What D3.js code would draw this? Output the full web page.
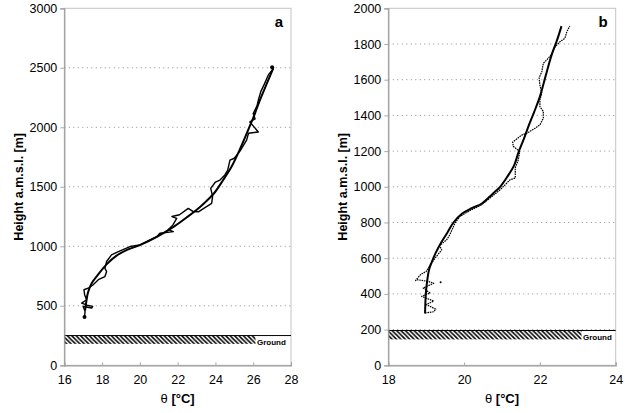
<!DOCTYPE html>
<html>
<head>
<meta charset="utf-8">
<script src="https://cdn.jsdelivr.net/npm/d3@7"></script>
<style>
  html, body { margin: 0; padding: 0; background: #fff; }
  svg { display: block; font-family: "Liberation Sans", Arial, sans-serif; }
</style>
</head>
<body>
<svg id="chart" width="625" height="413"></svg>
<script>
// ---------------- DATA ----------------
// Panel a
const aXTicks = [16, 18, 20, 22, 24, 26, 28];
const aYTicks = [0, 500, 1000, 1500, 2000, 2500, 3000];
const aGround = [180, 250];
const aFit = [[17.1,460],[17.15,520],[17.25,610],[17.45,690],[17.8,765],[18.25,850],[18.75,920],[19.35,972],[20.0,1010],[20.9,1080],[21.8,1165],[22.5,1245],[23.2,1333],[23.65,1400],[23.95,1450],[24.4,1555],[24.85,1668],[25.35,1835],[25.8,2003],[26.1,2120],[26.35,2227],[26.7,2360],[27.06,2495]];
const aObs = [[17.07,405],[17.1,452],[17.0,494],[17.45,481],[17.5,495],[17.2,505],[16.92,523],[17.18,551],[17.08,590],[17.04,635],[17.3,650],[17.53,677],[17.8,719],[18.15,746],[18.24,788],[18.15,815],[18.24,872],[18.5,928],[18.86,956],[19.48,998],[20.0,1012],[20.53,1054],[20.89,1081],[21.06,1110],[21.77,1123],[21.5,1140],[21.75,1180],[21.95,1235],[21.7,1250],[22.1,1265],[22.56,1319],[22.83,1291],[23.1,1290],[23.3,1310],[23.8,1361],[23.85,1420],[23.75,1487],[24.0,1540],[24.24,1557],[24.5,1600],[24.65,1640],[24.77,1724],[25.0,1740],[25.3,1800],[25.65,1892],[25.75,1950],[26.27,1961],[25.82,2045],[26.1,2070],[26.0,2116],[26.2,2180],[26.27,2227],[26.4,2300],[26.6,2367],[26.8,2440],[27.06,2493],[27.0,2505]];

// Panel b
const bXTicks = [18, 20, 22, 24];
const bYTicks = [0, 200, 400, 600, 800, 1000, 1200, 1400, 1600, 1800, 2000];
const bGround = [145, 195];
const bFit = [[18.97,290],[18.99,400],[19.03,480],[19.08,540],[19.15,580],[19.25,630],[19.4,690],[19.55,740],[19.72,800],[19.95,850],[20.2,880],[20.46,905],[20.75,960],[20.95,1000],[21.15,1060],[21.32,1120],[21.43,1190],[21.58,1270],[21.7,1340],[21.85,1420],[22.0,1505],[22.15,1620],[22.31,1739],[22.45,1820],[22.57,1900]];
const bObs = [[18.97,293],[19.2,300],[19.25,315],[19.0,340],[19.2,360],[18.88,386],[19.1,405],[18.92,433],[19.2,460],[19.05,470],[18.75,480],[18.72,475],[18.85,508],[19.0,526],[19.14,573],[19.27,610],[19.41,647],[19.35,670],[19.54,703],[19.62,730],[19.68,759],[19.76,797],[19.89,834],[20.16,867],[20.46,899],[20.68,937],[20.95,983],[21.21,1039],[21.35,1049],[21.35,1106],[21.43,1151],[21.47,1198],[21.3,1226],[21.28,1250],[21.53,1291],[21.66,1300],[21.87,1328],[22.0,1347],[22.09,1384],[22.09,1422],[22.0,1449],[22.0,1487],[22.05,1524],[22.0,1571],[21.98,1610],[22.05,1645],[22.09,1692],[22.22,1720],[22.3,1740],[22.4,1785],[22.53,1813],[22.66,1832],[22.71,1869],[22.79,1901]];
const bObsDots = [[19.38,465]];

const panelLabels = ["a", "b"];
const yTitle = "Height a.m.s.l. [m]";
const groundLabel = "Ground";

// ---------------- DRAW ----------------
const svg = d3.select("#chart");
const defs = svg.append("defs");
const pat = defs.append("pattern").attr("id", "hatch")
  .attr("patternUnits", "userSpaceOnUse").attr("width", 4.4).attr("height", 4.4);
pat.append("path").attr("d", "M-1,-1 L5.4,5.4 M-1,3.4 L1,5.4 M3.4,-1 L5.4,1")
  .attr("stroke", "#000").attr("stroke-width", 1.5);

const panels = [
  {left: 64.3, right: 291, xTicks: aXTicks, yTicks: aYTicks, ground: aGround, fit: aFit, obs: aObs, dots: [], label: panelLabels[0], hatchEndPx: 255.5, dashed: false},
  {left: 388.3, right: 615.7, xTicks: bXTicks, yTicks: bYTicks, ground: bGround, fit: bFit, obs: bObs, dots: bObsDots, label: panelLabels[1], hatchEndPx: 581.5, dashed: true}
];
const plotTop = 8.3, plotBottom = 365.3;

panels.forEach(p => {
  const x = d3.scaleLinear().domain(d3.extent(p.xTicks)).range([p.left, p.right]);
  const y = d3.scaleLinear().domain(d3.extent(p.yTicks)).range([plotBottom, plotTop]);
  const g = svg.append("g");

  g.append("rect").attr("x", p.left).attr("y", plotTop)
    .attr("width", p.right - p.left).attr("height", plotBottom - plotTop)
    .attr("fill", "none").attr("stroke", "#c4c4c4").attr("stroke-width", 1);

  g.selectAll(".grid").data(p.yTicks.filter(v => v > 0 && v < d3.max(p.yTicks))).enter()
    .append("line")
    .attr("x1", p.left).attr("x2", p.right)
    .attr("y1", d => y(d)).attr("y2", d => y(d))
    .attr("stroke", "#8a8a8a").attr("stroke-width", 1).attr("stroke-dasharray", "1,3.5");

  g.append("rect").attr("x", p.left).attr("y", y(p.ground[1]))
    .attr("width", p.hatchEndPx - p.left).attr("height", y(p.ground[0]) - y(p.ground[1]))
    .attr("fill", "url(#hatch)");
  g.append("line").attr("x1", p.left).attr("x2", p.right)
    .attr("y1", y(p.ground[1])).attr("y2", y(p.ground[1]))
    .attr("stroke", "#000").attr("stroke-width", 1);
  g.append("text").attr("x", p.hatchEndPx + 1.5).attr("y", y(p.ground[1]) + 9.5)
    .attr("font-size", 8).attr("font-weight", "bold").text(groundLabel);

  const yAxis = d3.axisLeft(y).tickValues(p.yTicks).tickSize(4).tickPadding(3).tickFormat(d3.format("d"));
  const ya = g.append("g").attr("transform", `translate(${p.left},0)`).call(yAxis);
  const xAxis = d3.axisBottom(x).tickValues(p.xTicks).tickSize(-3).tickPadding(10).tickFormat(d3.format("d"));
  const xa = g.append("g").attr("transform", `translate(0,${plotBottom})`).call(xAxis);
  [ya, xa].forEach(a => {
    a.select(".domain").attr("stroke", "#9a9a9a").attr("stroke-width", 1.2);
    a.selectAll(".tick line").attr("stroke", "#aaa");
    a.selectAll("text").attr("font-size", 12.5).attr("fill", "#000")
      .attr("font-family", "'Liberation Sans', Arial, sans-serif");
  });

  const line = d3.line().x(d => x(d[0])).y(d => y(d[1]));
  g.append("path").attr("d", line.curve(d3.curveLinear)(p.obs))
    .attr("fill", "none").attr("stroke", "#000")
    .attr("stroke-width", p.dashed ? 1.2 : 1.4)
    .attr("stroke-dasharray", p.dashed ? "1.6,0.8" : null)
    .attr("stroke-linejoin", "round");
  g.append("path").attr("d", d3.line().x(d => x(d[0])).y(d => y(d[1])).curve(d3.curveCatmullRom)(p.fit))
    .attr("fill", "none").attr("stroke", "#000").attr("stroke-width", 2);
  g.selectAll(".dot").data(p.dots).enter().append("circle")
    .attr("cx", d => x(d[0])).attr("cy", d => y(d[1])).attr("r", 1).attr("fill", "#000");
  if (!p.dashed) {
    g.append("circle").attr("cx", x(p.obs[0][0])).attr("cy", y(p.obs[0][1])).attr("r", 2).attr("fill", "#000");
    const last = p.obs[p.obs.length - 1];
    g.append("circle").attr("cx", x(last[0])).attr("cy", y(last[1])).attr("r", 2).attr("fill", "#000");
  }

  g.append("text").attr("x", p.right - 8).attr("y", 27).attr("text-anchor", "end")
    .attr("font-size", 15).attr("font-weight", "bold").text(p.label);

  const xt = g.append("text").attr("x", (p.left + p.right) / 2).attr("y", 403)
    .attr("text-anchor", "middle").attr("font-size", 13).attr("font-weight", "bold");
  xt.append("tspan").attr("font-weight", "normal").text("θ ");
  xt.append("tspan").text("[°C]");
  g.append("text").attr("transform", `translate(${p.left - 41},${(plotTop + plotBottom) / 2}) rotate(-90)`)
    .attr("text-anchor", "middle").attr("font-size", 12.5).attr("font-weight", "bold").text(yTitle);
});
</script>
</body>
</html>
